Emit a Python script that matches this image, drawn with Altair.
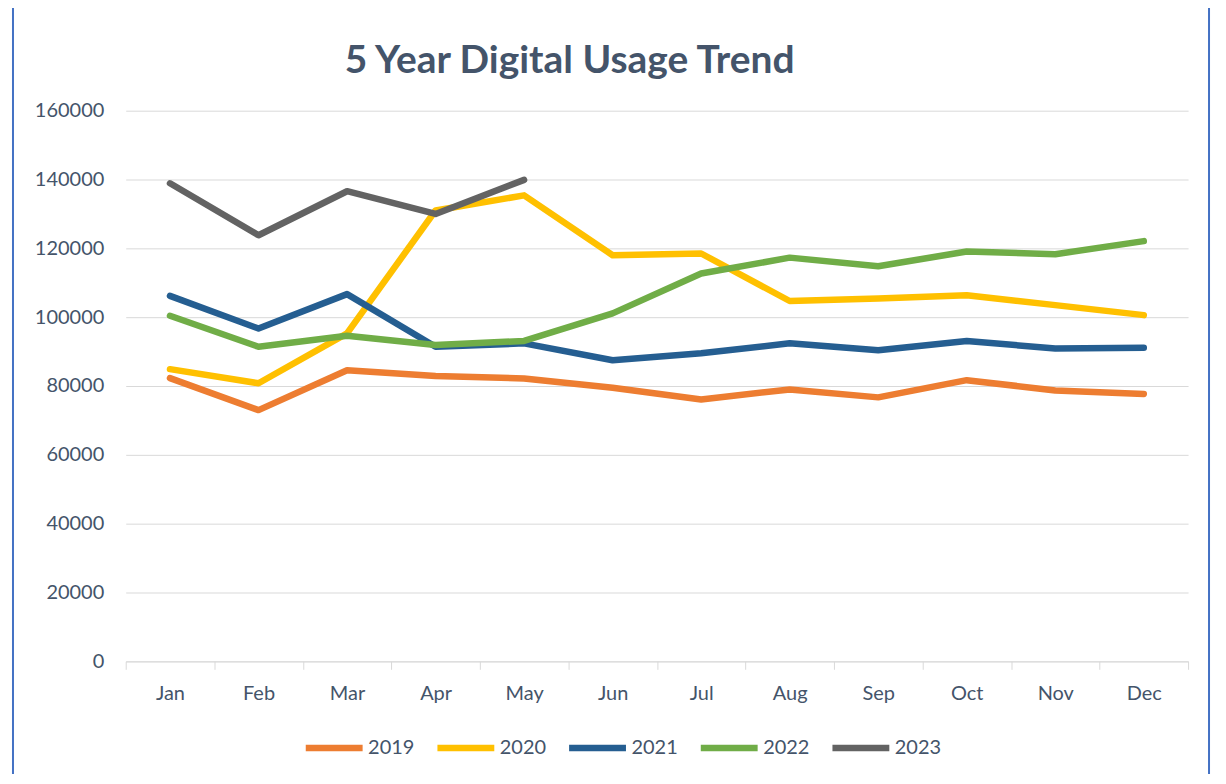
import altair as alt
import pandas as pd

months = ["Jan", "Feb", "Mar", "Apr", "May", "Jun", "Jul", "Aug", "Sep", "Oct", "Nov", "Dec"]
years = ["2019", "2020", "2021", "2022", "2023"]
v2019 = [82300, 73000, 84600, 82900, 82200, 79500, 76100, 79000, 76700, 81700, 78700, 77700]
v2020 = [84900, 80800, 95300, 131000, 135400, 118000, 118500, 104700, 105400, 106400, 103500, 100600]
v2021 = [106200, 96700, 106700, 91400, 92400, 87500, 89500, 92400, 90400, 93100, 90900, 91100]
v2022 = [100400, 91400, 94600, 91900, 93100, 101100, 112700, 117300, 114800, 119100, 118300, 122100]
v2023 = [138900, 123800, 136600, 130000, 139900]
colors = ["#ED7D31", "#FFC000", "#255E91", "#70AD47", "#636363"]
title_text = ["5 Year Digital Usage Trend"]

rows = []
for yr, vals in zip(years, [v2019, v2020, v2021, v2022, v2023]):
    for m, v in zip(months, vals):
        rows.append({"Month": m, "Year": yr, "Value": v})
df = pd.DataFrame(rows)

FONT = "Lato"
TXT = "#44546A"
W, H = 1065, 552

lines = alt.Chart(df).mark_line(strokeWidth=6.5, strokeCap="round", strokeJoin="round").encode(
    x=alt.X("Month:N", sort=months, bandPosition=0.5,
            scale=alt.Scale(type="band", paddingInner=0, paddingOuter=0),
            axis=alt.Axis(title=None, grid=False, tickBand="extent", labelAngle=0,
                          domainColor="#D9D9D9", tickColor="#D9D9D9", tickSize=8,
                          labelFont=FONT, labelFontSize=20, labelColor=TXT, labelPadding=14)),
    y=alt.Y("Value:Q", scale=alt.Scale(domain=[0, 160000]),
            axis=alt.Axis(title=None, values=list(range(0, 160001, 20000)), format="d",
                          domain=False, ticks=False, gridColor="#D9D9D9", gridWidth=1,
                          labelFont=FONT, labelFontSize=20, labelColor=TXT, labelPadding=22)),
    color=alt.Color("Year:N", scale=alt.Scale(domain=years, range=colors),
                    legend=alt.Legend(title=None, orient="none", direction="horizontal",
                                      legendX=177, legendY=607, symbolType="stroke",
                                      symbolStrokeWidth=6.5, symbolSize=3250,
                                      labelFont=FONT, labelFontSize=20, labelColor=TXT,
                                      labelOffset=2, columnPadding=9)),
)

border = alt.Chart(pd.DataFrame({"a": [0]})).mark_rect(fill=None, stroke="#4472C4", strokeWidth=2).encode(
    x=alt.value(-113), x2=alt.value(1086), y=alt.value(-105), y2=alt.value(720)
)

title = alt.Chart(pd.DataFrame({"t": title_text})).mark_text(
    font=FONT, fontSize=39, fontWeight="bold", color=TXT, align="center", baseline="alphabetic"
).encode(text="t:N", x=alt.value(445), y=alt.value(-38))

chart = alt.layer(border, lines, title).properties(
    width=W, height=H,
    autosize=alt.AutoSizeParams(type="none"),
    padding={"left": 118, "top": 102, "right": 30, "bottom": 112},
).configure_view(stroke=None)

chart.save("out.html", embed_options={"renderer": "svg", "actions": False})
